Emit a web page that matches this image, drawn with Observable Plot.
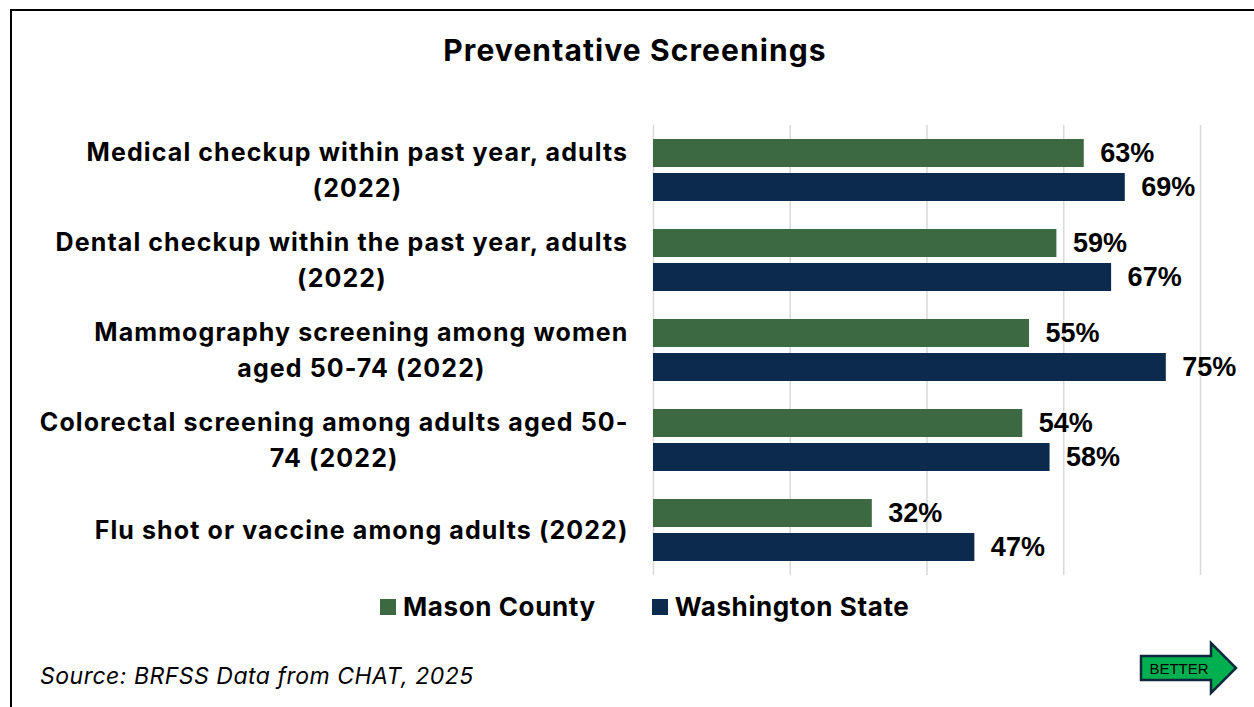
<!DOCTYPE html>
<html>
<head>
<meta charset="utf-8">
<script src="https://cdn.jsdelivr.net/npm/d3@7"></script>
<script src="https://cdn.jsdelivr.net/npm/@observablehq/plot@0.6"></script>
<style>
  html, body { margin: 0; padding: 0; background: #fff; overflow: hidden; }
  #wrap { position: relative; width: 1254px; height: 707px; overflow: hidden; font-family: Inter, "Liberation Sans", sans-serif; }
  #frame { position: absolute; left: 10px; top: 9px; width: 1400px; height: 900px; border: 2px solid #000; box-sizing: border-box; }
  #title { position: absolute; top: 32px; left: 0; width: 1270px; text-align: center; font-weight: 700; font-size: 30px; letter-spacing: 1.1px; color: #000; }
  #chart { position: absolute; top: 110px; left: 0; }
  #chart g[font-family="Inter"] { letter-spacing: 1.1px; }
  #legend { position: absolute; top: 591px; left: 380px; display: flex; align-items: center; font-weight: 700; font-size: 26px; letter-spacing: 0.6px; color: #000; }
  #legend .sw { display: inline-block; width: 16px; height: 16px; margin-right: 7px; }
  #legend .item { display: flex; align-items: center; }
  #source { position: absolute; left: 40px; top: 662px; font-style: italic; font-size: 23px; letter-spacing: 0.5px; color: #000; }
  #arrow { position: absolute; left: 1130px; top: 636px; }
</style>
</head>
<body>
<div id="wrap">
  <div id="frame"></div>
  <div id="title"></div>
  <div id="chart"></div>
  <div id="legend"></div>
  <div id="source"></div>
  <svg id="arrow" width="120" height="66" viewBox="0 0 120 66">
    <polygon points="11,20 81,20 81,7 106,32 81,57 81,44 11,44" fill="#00B050" stroke="#0E2A3A" stroke-width="2.5" stroke-linejoin="miter"/>
    <text x="49" y="38" text-anchor="middle" font-family="Liberation Sans, Arial, sans-serif" font-size="15" fill="#000">BETTER</text>
  </svg>
</div>
<script>
const titleText = "Preventative Screenings";
const sourceText = "Source: BRFSS Data from CHAT, 2025";
const categories = [
  "Medical checkup within past year, adults (2022)",
  "Dental checkup within the past year, adults (2022)",
  "Mammography screening among women aged 50-74 (2022)",
  "Colorectal screening among adults aged 50-74 (2022)",
  "Flu shot or vaccine among adults (2022)"
];
const categoryLines = [
  ["Medical checkup within past year, adults", "(2022)"],
  ["Dental checkup within the past year, adults", "(2022)"],
  ["Mammography screening among women", "aged 50-74 (2022)"],
  ["Colorectal screening among adults aged 50-", "74 (2022)"],
  ["Flu shot or vaccine among adults (2022)"]
];
const seriesNames = ["Mason County", "Washington State"];
const masonCounty = [63, 59, 55, 54, 32];
const washingtonState = [69, 67, 75, 58, 47];
const xTicks = [0, 20, 40, 60, 80];
const seriesColors = ["#3C6842", "#0C2A4D"];

document.getElementById("title").textContent = titleText;
document.getElementById("source").textContent = sourceText;

const data = categories.flatMap((c, i) => [
  {category: c, series: seriesNames[0], value: masonCounty[i]},
  {category: c, series: seriesNames[1], value: washingtonState[i]}
]);

const labelFont = "Inter";
const labelSize = 25;
const labelSpacing = 1.1;
const canvas = document.createElement("canvas");
const ctx = canvas.getContext("2d");
ctx.font = `bold ${labelSize}px ${labelFont}`;
const measure = s => ctx.measureText(s).width + labelSpacing * s.length;
const labelMarks = categories.map((c, i) => {
  const lines = categoryLines[i];
  const w = Math.max(...lines.map(measure));
  return Plot.text([c], {
    fy: d => d,
    text: () => lines.join("\n"),
    frameAnchor: "left",
    textAnchor: "middle",
    dx: -(25 + w / 2),
    dy: -3,
    lineHeight: 36 / labelSize,
    fontSize: labelSize,
    fontWeight: "bold",
    fontFamily: labelFont,
    fill: "#000"
  });
});

const chart = Plot.plot({
  width: 1254,
  height: 480,
  marginLeft: 653,
  marginRight: 54,
  marginTop: 15,
  marginBottom: 15,
  style: {background: "transparent", overflow: "visible"},
  x: {domain: [0, 80], axis: null},
  fy: {domain: categories, padding: 0, axis: null},
  y: {domain: seriesNames, paddingInner: 0.176, paddingOuter: 0.41, axis: null},
  color: {domain: seriesNames, range: seriesColors},
  marks: [
    Plot.ruleX(xTicks, {stroke: "#D9D9D9", strokeWidth: 1.5}),
    Plot.barX(data, {fy: "category", y: "series", x: "value", fill: "series"}),
    Plot.text(data, {
      fy: "category", y: "series", x: "value",
      text: d => d.value + "%",
      textAnchor: "start", dx: 16,
      fontSize: 27, fontWeight: "bold", fontFamily: "Liberation Sans",
      fill: "#000"
    }),
    ...labelMarks
  ]
});
document.getElementById("chart").appendChild(chart);

const legend = document.getElementById("legend");
seriesNames.forEach((s, i) => {
  const item = document.createElement("div");
  item.className = "item";
  if (i > 0) item.style.marginLeft = "56px";
  const sw = document.createElement("span");
  sw.className = "sw";
  sw.style.background = seriesColors[i];
  const t = document.createElement("span");
  t.textContent = s;
  item.appendChild(sw);
  item.appendChild(t);
  legend.appendChild(item);
});
</script>
</body>
</html>
